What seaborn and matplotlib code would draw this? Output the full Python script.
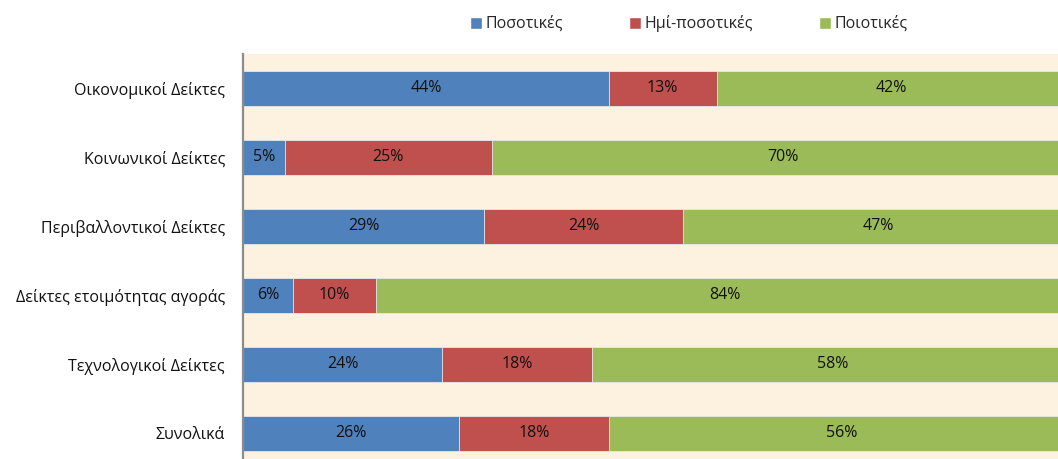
import matplotlib
matplotlib.use("Agg")
import matplotlib.pyplot as plt
import seaborn as sns
import pandas as pd
from matplotlib.patches import Patch

categories = ["Οικονομικοί Δείκτες", "Κοινωνικοί Δείκτες", "Περιβαλλοντικοί Δείκτες",
              "Δείκτες ετοιμότητας αγοράς", "Τεχνολογικοί Δείκτες", "Συνολικά"]
series = ["Ποσοτικές", "Ημί-ποσοτικές", "Ποιοτικές"]
quant = [44, 5, 29, 6, 24, 26]
semi = [13, 25, 24, 10, 18, 18]
qual = [42, 70, 47, 84, 58, 56]
colors = ["#4F81BD", "#C0504D", "#9BBB59"]

df = pd.DataFrame({"cat": categories, "q": quant, "s": semi, "l": qual})
df["qs"] = df["q"] + df["s"]
df["tot"] = df["qs"] + df["l"]

sns.set_theme(style="white")
plt.rcParams["font.family"] = ["Open Sans", "DejaVu Sans"]

fig = plt.figure(figsize=(10.58, 4.59), dpi=100)
ax = fig.add_axes([243 / 1058, 0, 1 - 243 / 1058, 1 - 54 / 459])
ax.set_facecolor("#FDF2DF")

# stacked bars by overlaying cumulative totals
for col, c in zip(["tot", "qs", "q"], colors[::-1]):
    sns.barplot(data=df, y="cat", x=col, color=c, orient="h", width=0.5,
                edgecolor="#E8E8E8", linewidth=0.6, ax=ax, saturation=1)

# segment labels
for i, row in df.iterrows():
    starts = [0, row["q"], row["qs"]]
    for st, v in zip(starts, [row["q"], row["s"], row["l"]]):
        ax.text(st + v / 2, i, f"{v}%", ha="center", va="center",
                fontsize=11.5, color="#111111")

ax.set_xlim(0, 100 * 815 / 831)
ax.set_ylim(5.37, -0.5)
ax.set_xlabel("")
ax.set_ylabel("")
ax.set_xticks([])
ax.tick_params(axis="y", length=0, pad=13, labelsize=11.5, labelcolor="#111111")
for s in ["top", "right", "bottom"]:
    ax.spines[s].set_visible(False)
ax.spines["left"].set_color("#8C8C8C")
ax.spines["left"].set_linewidth(1.6)

handles = [Patch(facecolor=c, label=l) for c, l in zip(colors, series)]
fig.legend(handles=handles, loc="center", bbox_to_anchor=(0.651, 0.948), ncol=3,
           frameon=False, fontsize=11.5, handlelength=0.75, handleheight=0.75,
           handletextpad=0.25, columnspacing=4.1)

fig.savefig("out.png", dpi=100)
